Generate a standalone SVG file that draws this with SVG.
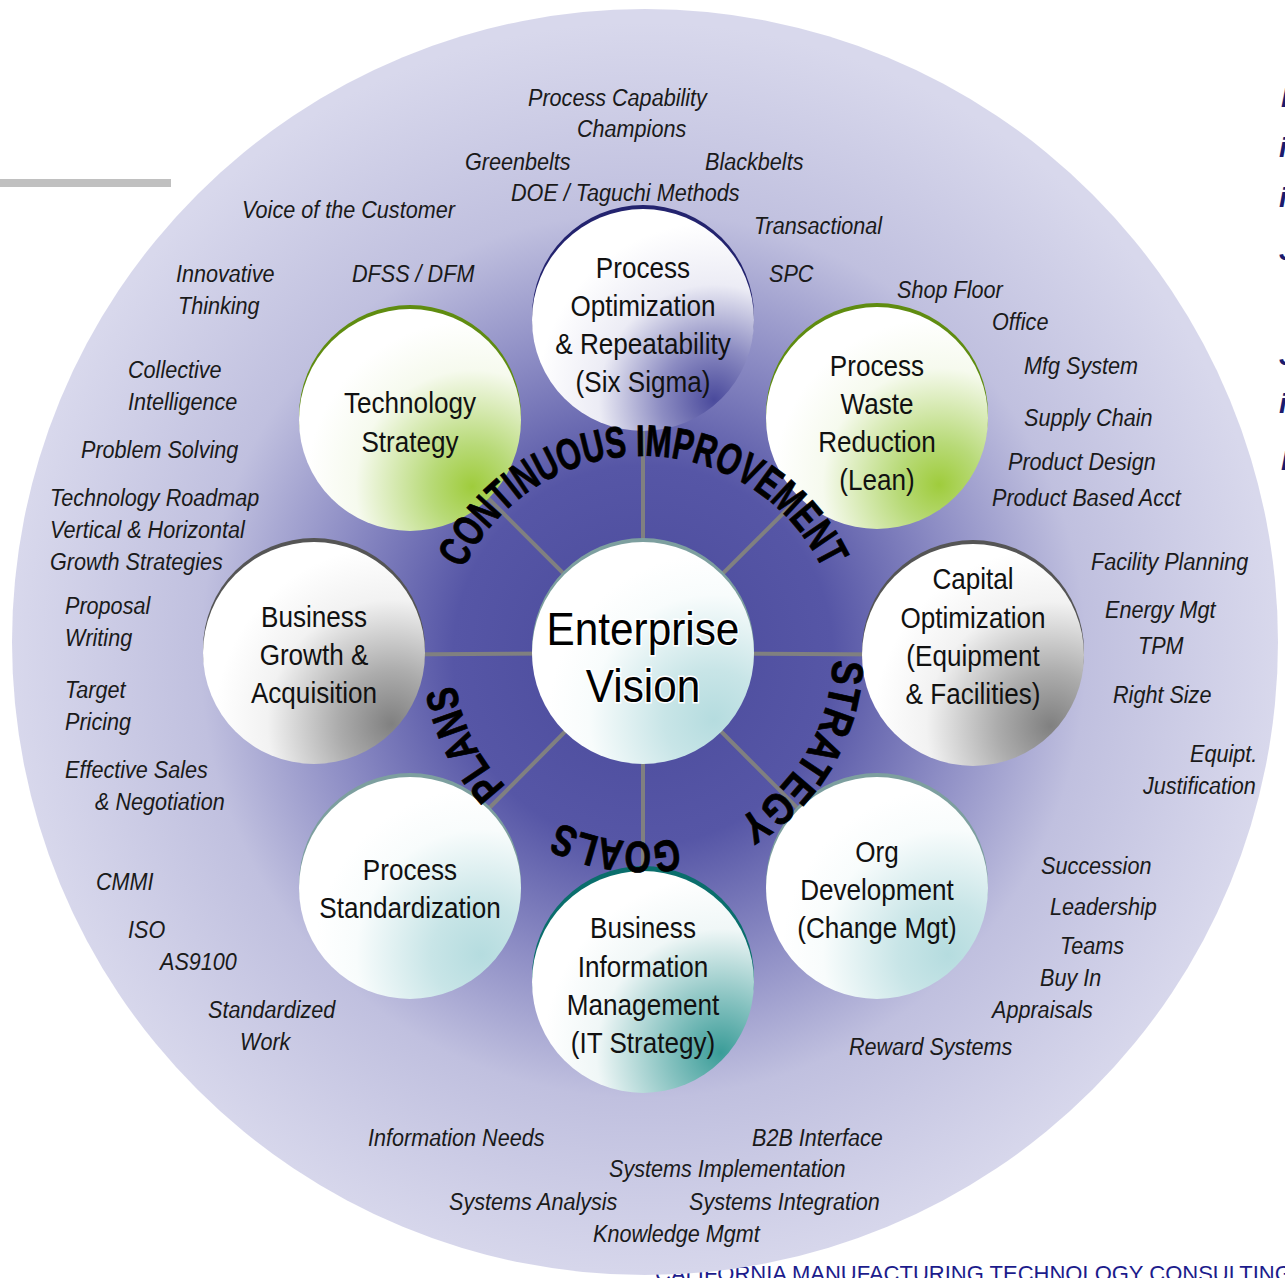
<svg xmlns="http://www.w3.org/2000/svg" width="1285" height="1278" viewBox="0 0 1285 1278">
<style>
.lbl{font-family:"Liberation Sans",Arial,sans-serif;font-style:italic;font-size:24px;fill:#1a1a1a}
.nt{font-family:"Liberation Sans",Arial,sans-serif;font-size:29px;fill:#111;text-anchor:middle}
.ev{font-family:"Liberation Sans",Arial,sans-serif;font-size:47px;fill:#000;text-anchor:middle;stroke:#fff;stroke-width:3;paint-order:stroke}
.arc{font-family:"Liberation Sans",Arial,sans-serif;font-weight:bold;font-size:44px;fill:#000;stroke:#000;stroke-width:0.8}
.rt{font-family:"Liberation Sans",Arial,sans-serif;font-weight:bold;font-style:italic;font-size:28px;fill:#1b1b6e}
.ft{font-family:"Liberation Sans",Arial,sans-serif;font-size:22px;fill:#1c1c8c}
.spoke{stroke:#808080;stroke-width:4}
</style>
<defs>
<radialGradient id="gBg" gradientUnits="userSpaceOnUse" cx="643" cy="655" r="633">
<stop offset="0" stop-color="#4a4a9b"/><stop offset="0.3" stop-color="#5656a6"/><stop offset="0.5" stop-color="#8c8cc4"/><stop offset="0.7" stop-color="#c0c0df"/><stop offset="1" stop-color="#d8d8ec"/>
</radialGradient>
<radialGradient id="gPO" cx="0.82" cy="0.86" r="0.8"><stop offset="0" stop-color="#4a4a9c"/><stop offset="0.3" stop-color="#8c8cc2"/><stop offset="0.65" stop-color="#ececf5"/><stop offset="1" stop-color="#fff"/></radialGradient>
<radialGradient id="gGr" cx="0.78" cy="0.8" r="0.75"><stop offset="0" stop-color="#9fcc3c"/><stop offset="0.25" stop-color="#b8da78"/><stop offset="0.7" stop-color="#f6faee"/><stop offset="1" stop-color="#fff"/></radialGradient>
<radialGradient id="gGy" cx="0.85" cy="0.82" r="0.8"><stop offset="0" stop-color="#808080"/><stop offset="0.3" stop-color="#acacac"/><stop offset="0.7" stop-color="#f2f2f2"/><stop offset="1" stop-color="#fff"/></radialGradient>
<radialGradient id="gLt" cx="0.82" cy="0.8" r="0.75"><stop offset="0" stop-color="#b5dcdf"/><stop offset="0.3" stop-color="#c8e5e7"/><stop offset="0.75" stop-color="#f8fcfc"/><stop offset="1" stop-color="#fff"/></radialGradient>
<radialGradient id="gTl" cx="0.85" cy="0.82" r="0.8"><stop offset="0" stop-color="#3a9c98"/><stop offset="0.3" stop-color="#86c2c0"/><stop offset="0.7" stop-color="#f0f7f7"/><stop offset="1" stop-color="#fff"/></radialGradient>
<path id="pCI" d="M447,620.4 A199,199 0 0 1 839,620.4"/>
<path id="pST" d="M822.4,592.5 A190,190 0 0 1 673.4,842.5"/>
<path id="pGO" d="M768.4,793.8 A187,187 0 0 1 484.6,754.4"/>
<path id="pPL" d="M598.6,839.8 A190,190 0 0 1 468.8,579.2"/>
</defs>
<rect width="1285" height="1278" fill="#fff"/>
<text class="ft" x="655" y="1281">CALIFORNIA MANUFACTURING TECHNOLOGY CONSULTING</text>
<rect x="0" y="179" width="171" height="8" fill="#c0c0c0"/>
<g class="rt">
<text x="1281" y="107">I</text><text x="1279" y="157">i</text><text x="1279" y="207">i</text><text x="1279" y="260">J</text>
<text x="1279" y="365">J</text><text x="1279" y="413">i</text><text x="1281" y="470">I</text>
</g>
<circle id="ring" cx="645" cy="642" r="633" fill="url(#gBg)"/>
<g id="connectors">
<line class="spoke" x1="643" y1="653" x2="643" y2="320"/>
<line class="spoke" x1="643" y1="653" x2="410" y2="420"/>
<line class="spoke" x1="643" y1="653" x2="877" y2="420"/>
<line class="spoke" x1="643" y1="653" x2="313" y2="655"/>
<line class="spoke" x1="643" y1="653" x2="973" y2="655"/>
<line class="spoke" x1="643" y1="653" x2="410" y2="888"/>
<line class="spoke" x1="643" y1="653" x2="877" y2="888"/>
<line class="spoke" x1="643" y1="653" x2="643" y2="982"/>
</g>
<g id="n-center">
<circle cx="643" cy="649" r="111" fill="#7d9f9f"/>
<circle cx="643" cy="653" r="111" fill="url(#gLt)"/>
<g transform="translate(643 0) scale(.9 1)"><text class="ev" x="0" y="645">Enterprise</text><text class="ev" x="0" y="702">Vision</text></g>
</g>
<g id="n-po">
<circle cx="643" cy="316" r="111" fill="#23236e"/>
<circle cx="643" cy="320" r="111" fill="url(#gPO)"/>
<g transform="translate(643 0) scale(.9 1)"><text class="nt" x="0" y="278">Process</text><text class="nt" x="0" y="316">Optimization</text><text class="nt" x="0" y="354">&amp; Repeatability</text><text class="nt" x="0" y="392">(Six Sigma)</text></g>
</g>
<g id="n-tech">
<circle cx="410" cy="416" r="111" fill="#5f8c10"/>
<circle cx="410" cy="420" r="111" fill="url(#gGr)"/>
<g transform="translate(410 0) scale(.9 1)"><text class="nt" x="0" y="413">Technology</text><text class="nt" x="0" y="452">Strategy</text></g>
</g>
<g id="n-lean">
<circle cx="877" cy="414" r="111" fill="#5f8c10"/>
<circle cx="877" cy="418" r="111" fill="url(#gGr)"/>
<g transform="translate(877 0) scale(.9 1)"><text class="nt" x="0" y="376">Process</text><text class="nt" x="0" y="414">Waste</text><text class="nt" x="0" y="452">Reduction</text><text class="nt" x="0" y="490">(Lean)</text></g>
</g>
<g id="n-bga">
<circle cx="314" cy="649" r="111" fill="#555"/>
<circle cx="314" cy="653" r="111" fill="url(#gGy)"/>
<g transform="translate(314 0) scale(.9 1)"><text class="nt" x="0" y="627">Business</text><text class="nt" x="0" y="665">Growth &amp;</text><text class="nt" x="0" y="703">Acquisition</text></g>
</g>
<g id="n-cap">
<circle cx="973" cy="651" r="111" fill="#555"/>
<circle cx="973" cy="655" r="111" fill="url(#gGy)"/>
<g transform="translate(973 0) scale(.9 1)"><text class="nt" x="0" y="589">Capital</text><text class="nt" x="0" y="628">Optimization</text><text class="nt" x="0" y="666">(Equipment</text><text class="nt" x="0" y="704">&amp; Facilities)</text></g>
</g>
<g id="n-ps">
<circle cx="410" cy="884" r="111" fill="#7d9f9f"/>
<circle cx="410" cy="888" r="111" fill="url(#gLt)"/>
<g transform="translate(410 0) scale(.9 1)"><text class="nt" x="0" y="880">Process</text><text class="nt" x="0" y="918">Standardization</text></g>
</g>
<g id="n-org">
<circle cx="877" cy="884" r="111" fill="#7d9f9f"/>
<circle cx="877" cy="888" r="111" fill="url(#gLt)"/>
<g transform="translate(877 0) scale(.9 1)"><text class="nt" x="0" y="862">Org</text><text class="nt" x="0" y="900">Development</text><text class="nt" x="0" y="938">(Change Mgt)</text></g>
</g>
<g id="n-bim">
<circle cx="643" cy="977" r="111" fill="#0a6e6c"/>
<circle cx="643" cy="982" r="111" fill="url(#gTl)"/>
<g transform="translate(643 0) scale(.9 1)"><text class="nt" x="0" y="938">Business</text><text class="nt" x="0" y="977">Information</text><text class="nt" x="0" y="1015">Management</text><text class="nt" x="0" y="1053">(IT Strategy)</text></g>
</g>
<g id="arcs">
<text class="arc"><textPath href="#pCI" startOffset="50%" text-anchor="middle" textLength="448" lengthAdjust="spacingAndGlyphs">CONTINUOUS IMPROVEMENT</textPath></text>
<text class="arc"><textPath href="#pST" startOffset="50%" text-anchor="middle" textLength="195" lengthAdjust="spacingAndGlyphs">STRATEGY</textPath></text>
<text class="arc"><textPath href="#pGO" startOffset="50%" text-anchor="middle" textLength="122" lengthAdjust="spacingAndGlyphs">GOALS</textPath></text>
<text class="arc"><textPath href="#pPL" startOffset="50%" text-anchor="middle" textLength="115" lengthAdjust="spacingAndGlyphs">PLANS</textPath></text>
</g>
<g id="labels" class="lbl">
<text transform="translate(528 106) scale(.9 1)">Process Capability</text>
<text transform="translate(577 137) scale(.9 1)">Champions</text>
<text transform="translate(465 170) scale(.9 1)">Greenbelts</text>
<text transform="translate(705 170) scale(.9 1)">Blackbelts</text>
<text transform="translate(511 201) scale(.9 1)">DOE / Taguchi Methods</text>
<text transform="translate(242 218) scale(.9 1)">Voice of the Customer</text>
<text transform="translate(754 234) scale(.9 1)">Transactional</text>
<text transform="translate(176 282) scale(.9 1)">Innovative</text>
<text transform="translate(178 314) scale(.9 1)">Thinking</text>
<text transform="translate(352 282) scale(.9 1)">DFSS / DFM</text>
<text transform="translate(769 282) scale(.9 1)">SPC</text>
<text transform="translate(897 298) scale(.9 1)">Shop Floor</text>
<text transform="translate(992 330) scale(.9 1)">Office</text>
<text transform="translate(1024 374) scale(.9 1)">Mfg System</text>
<text transform="translate(128 378) scale(.9 1)">Collective</text>
<text transform="translate(128 410) scale(.9 1)">Intelligence</text>
<text transform="translate(1024 426) scale(.9 1)">Supply Chain</text>
<text transform="translate(81 458) scale(.9 1)">Problem Solving</text>
<text transform="translate(1008 470) scale(.9 1)">Product Design</text>
<text transform="translate(50 506) scale(.9 1)">Technology Roadmap</text>
<text transform="translate(992 506) scale(.9 1)">Product Based Acct</text>
<text transform="translate(50 538) scale(.9 1)">Vertical &amp; Horizontal</text>
<text transform="translate(50 570) scale(.9 1)">Growth Strategies</text>
<text transform="translate(1091 570) scale(.9 1)">Facility Planning</text>
<text transform="translate(65 614) scale(.9 1)">Proposal</text>
<text transform="translate(1105 618) scale(.9 1)">Energy Mgt</text>
<text transform="translate(65 646) scale(.9 1)">Writing</text>
<text transform="translate(1138 654) scale(.9 1)">TPM</text>
<text transform="translate(65 698) scale(.9 1)">Target</text>
<text transform="translate(1113 703) scale(.9 1)">Right Size</text>
<text transform="translate(65 730) scale(.9 1)">Pricing</text>
<text transform="translate(1190 762) scale(.9 1)">Equipt.</text>
<text transform="translate(65 778) scale(.9 1)">Effective Sales</text>
<text transform="translate(1143 794) scale(.9 1)">Justification</text>
<text transform="translate(95 810) scale(.9 1)">&amp; Negotiation</text>
<text transform="translate(1041 874) scale(.9 1)">Succession</text>
<text transform="translate(96 890) scale(.9 1)">CMMI</text>
<text transform="translate(1050 915) scale(.9 1)">Leadership</text>
<text transform="translate(128 938) scale(.9 1)">ISO</text>
<text transform="translate(1060 954) scale(.9 1)">Teams</text>
<text transform="translate(160 970) scale(.9 1)">AS9100</text>
<text transform="translate(1040 986) scale(.9 1)">Buy In</text>
<text transform="translate(208 1018) scale(.9 1)">Standardized</text>
<text transform="translate(992 1018) scale(.9 1)">Appraisals</text>
<text transform="translate(240 1050) scale(.9 1)">Work</text>
<text transform="translate(849 1055) scale(.9 1)">Reward Systems</text>
<text transform="translate(368 1146) scale(.9 1)">Information Needs</text>
<text transform="translate(752 1146) scale(.9 1)">B2B Interface</text>
<text transform="translate(609 1177) scale(.9 1)">Systems Implementation</text>
<text transform="translate(449 1210) scale(.9 1)">Systems Analysis</text>
<text transform="translate(689 1210) scale(.9 1)">Systems Integration</text>
<text transform="translate(593 1242) scale(.9 1)">Knowledge Mgmt</text>
</g>
</svg>
